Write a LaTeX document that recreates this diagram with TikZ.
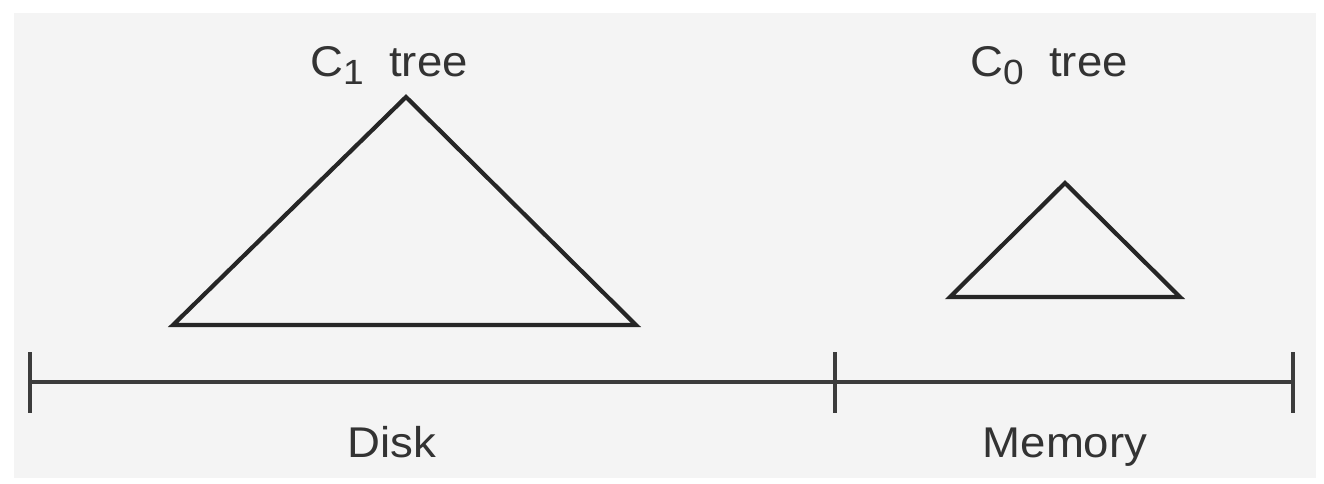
\documentclass[tikz,border=0pt]{standalone}
\usepackage{fontspec}
\setmainfont[FakeStretch=1.06]{Liberation Sans}
\definecolor{bggray}{HTML}{F4F4F4}
\definecolor{inkc}{HTML}{262626}
\definecolor{txtc}{HTML}{333333}
\newcommand{\lbl}{\fontsize{43}{50}\selectfont}
\newcommand{\sub}[1]{\raisebox{-8pt}{\fontsize{35}{40}\selectfont #1}}
\begin{document}
\begin{tikzpicture}[x=1pt,y=-1pt,
  tri/.style={draw=inkc,line width=4.2pt,line join=miter},
  axis/.style={draw=inkc!90,line width=3.2pt},
  tick/.style={draw=inkc!90,line width=3.2pt},
  txt/.style={inner sep=0pt,anchor=base,text=txtc,font=\lbl}]
\useasboundingbox (0,0) rectangle (1324,484);
\fill[white] (0,0) rectangle (1324,484);
\fill[bggray] (14,13) rectangle (1316,478);
% big triangle
\coordinate (a1) at (406,97);
\coordinate (b1) at (173,325);
\coordinate (c1) at (636,325);
\draw[tri] (a1) -- (b1) -- (c1) -- cycle;
% small triangle
\coordinate (a0) at (1065,183);
\coordinate (b0) at (950,297);
\coordinate (c0) at (1180,297);
\draw[tri] (a0) -- (b0) -- (c0) -- cycle;
% axis
\coordinate (l) at (30,382);
\coordinate (m) at (835,382);
\coordinate (r) at (1293,382);
\draw[axis] (l) -- (r);
\draw[tick] (30,352) -- (30,413);
\draw[tick] (835,352) -- (835,413);
\draw[tick] (1293,352) -- (1293,413);
% labels
\node[txt] (t1) at (389,77) {C\sub{1}\ \ tree};
\node[txt] (t0) at (1049,77) {C\sub{0}\ \ tree};
\node[txt] (disk) at (392,457) {Disk};
\node[txt] (mem) at (1065,457) {Memory};
\end{tikzpicture}
\end{document}
